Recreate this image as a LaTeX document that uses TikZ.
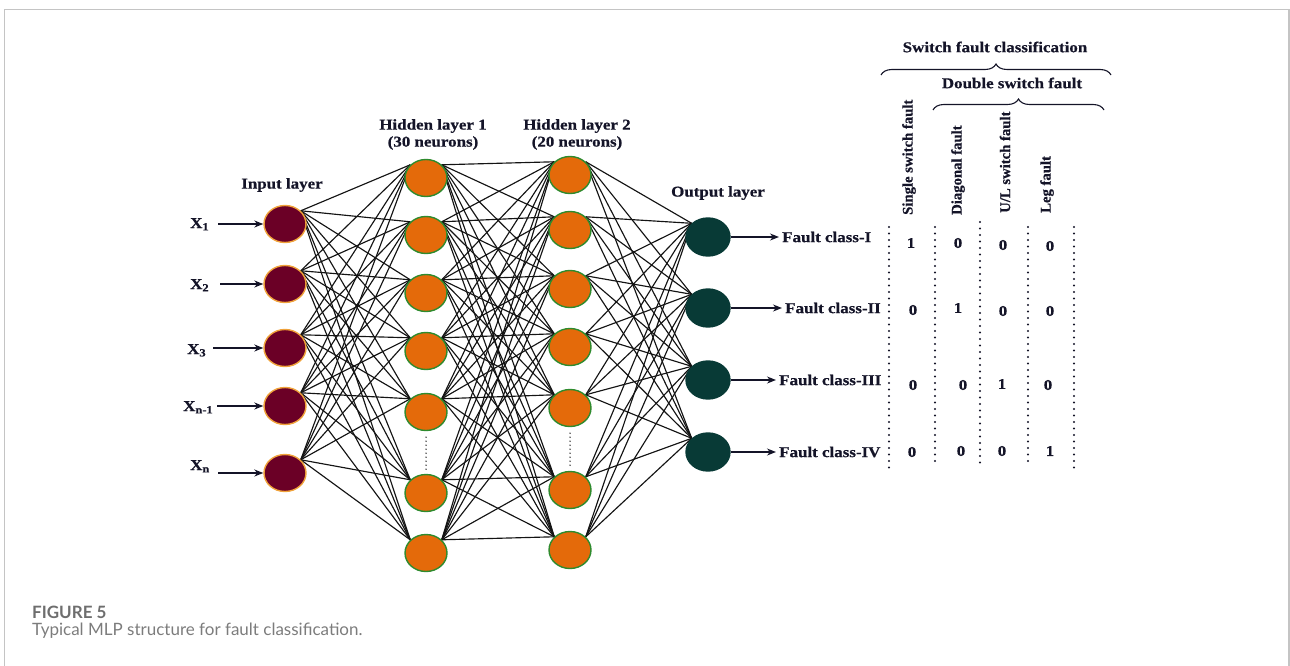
\documentclass[tikz,border=0pt]{standalone}
\usepackage{fontspec}
\setmainfont{Liberation Serif}
\newfontfamily\lbl[FakeStretch=1.13,FakeBold=0.6]{Liberation Serif}
\newfontfamily\vlbl[FakeBold=0.6]{Liberation Serif}
\newfontfamily\capfont{Lato}
\usetikzlibrary{shapes.geometric,arrows.meta,decorations.pathreplacing,backgrounds}

\definecolor{ink}{HTML}{141428}
\definecolor{inmaroon}{HTML}{6B0026}
\definecolor{inring}{HTML}{F0A23A}
\definecolor{hfill}{HTML}{E46A0A}
\definecolor{hring}{HTML}{2E8B2E}
\definecolor{ofill}{HTML}{083A36}
\definecolor{framegray}{HTML}{C4C4C4}
\definecolor{capgray}{HTML}{6E6E6E}
\definecolor{capgraylight}{HTML}{7C7C7C}

\newcommand{\xsub}[1]{X\raisebox{-0.35ex}{\fontsize{11}{11}\selectfont #1}}

\tikzset{
  neuron/.style={ellipse, minimum width=42pt, minimum height=37pt, inner sep=0pt, line width=1.4pt},
  inneuron/.style={neuron, fill=inmaroon, draw=inring},
  hidneuron/.style={neuron, fill=hfill, draw=hring},
  outneuron/.style={neuron, fill=ofill, draw=ofill, minimum width=44pt, minimum height=38pt},
  lab/.style={font=\lbl\bfseries\fontsize{15}{17}\selectfont, text=ink, inner sep=0pt},
  vlab/.style={font=\vlbl\bfseries\fontsize{14.7}{16}\selectfont, text=ink, rotate=90, anchor=west, inner sep=0pt},
  link/.style={line width=1.15pt, draw=black!92},
  tip/.style={-{Stealth[length=9pt,width=7pt]}, line width=1.3pt, draw=ink},
  tabdots/.style={line width=2.3pt, line cap=round, dash pattern=on 0pt off 6.5pt, draw=ink},
  hdots/.style={line width=1.6pt, line cap=round, dash pattern=on 0pt off 4pt, draw=black!75},
  bracebar/.style={decorate, decoration={brace, amplitude=11pt}, line width=1.1pt, draw=ink},
  framebar/.style={line width=1.5pt, draw=framegray}
}

\begin{document}
\begin{tikzpicture}[x=1pt, y=-1pt]
\useasboundingbox (0,0) rectangle (1290,666);

% outer frame
\draw[framebar] (4.5,666) -- (4.5,9.5) -- (1289,9.5) -- (1289,666);

% neurons
\foreach \y [count=\i] in {224,284,348,406,473}
  \node[inneuron] (i\i) at (285,\y) {};
\foreach \y [count=\i] in {178,235,293,351,412,493,553}
  \node[hidneuron] (a\i) at (426,\y) {};
\foreach \y [count=\i] in {175,230,289,347,408,490,550}
  \node[hidneuron] (b\i) at (570,\y) {};
\foreach \y [count=\i] in {237,308,380,452}
  \node[outneuron] (o\i) at (708,\y) {};

% fully connected weights
\begin{scope}[on background layer]
  \foreach \i in {1,...,5}
    \foreach \j in {1,...,7}
      \draw[link] (i\i.40) -- (a\j.140);
  \foreach \i in {1,...,7}
    \foreach \j in {1,...,7}
      \draw[link] (a\i.40) -- (b\j.140);
  \foreach \i in {1,...,7}
    \foreach \j in {1,...,4}
      \draw[link] (b\i.40) -- (o\j.140);
\end{scope}

% elided neurons
\draw[hdots] ([yshift=-6pt]a5.south) -- ([yshift=4pt]a6.north);
\draw[hdots] ([yshift=-6pt]b5.south) -- ([yshift=4pt]b6.north);

% layer titles
\node[lab] (tin) at (282,185) {Input layer};
\node[lab, align=center] (th1) at (433,134.5) {Hidden layer 1\\(30 neurons)};
\node[lab, align=center] (th2) at (577,134.5) {Hidden layer 2\\(20 neurons)};
\node[lab] (tout) at (718,193) {Output layer};

% inputs
\node[lab, anchor=base west] (x1) at (190,228) {\xsub{1}};
\node[lab, anchor=base west] (x2) at (190,289) {\xsub{2}};
\node[lab, anchor=base west] (x3) at (187,354) {\xsub{3}};
\node[lab, anchor=base west] (x4) at (183,411) {\xsub{n-1}};
\node[lab, anchor=base west] (x5) at (190,470) {\xsub{n}};
\coordinate (s1) at (218,224);
\coordinate (s2) at (220,284);
\coordinate (s3) at (213,348);
\coordinate (s4) at (217,406);
\coordinate (s5) at (218,473);
\foreach \i in {1,...,5}
  \draw[tip] (s\i) -- (i\i.west);

% outputs
\node[lab, anchor=west] (f1) at (782,237) {Fault class-I};
\node[lab, anchor=west] (f2) at (785,308) {Fault class-II};
\node[lab, anchor=west] (f3) at (779,380) {Fault class-III};
\node[lab, anchor=west] (f4) at (779,452) {Fault class-IV};
\foreach \i in {1,...,4}
  \draw[tip] (o\i.east) -- ([xshift=-3pt]f\i.west);

% classification table
\node[lab] (tsw) at (995,47) {Switch fault classification};
\node[lab] (tdbl) at (1012,83) {Double switch fault};
\coordinate (bl1) at (881,75);
\coordinate (br1) at (1111,75);
\coordinate (bl2) at (933,110);
\coordinate (br2) at (1104,110);
\draw[bracebar] (bl1) -- (br1);
\draw[bracebar] (bl2) -- (br2);

\node[vlab] (c1) at (909,215) {Single switch fault};
\node[vlab] (c2) at (958,215) {Diagonal fault};
\node[vlab] (c3) at (1005,213) {U/L switch fault};
\node[vlab] (c4) at (1047,213) {Leg fault};

\coordinate (d1t) at (889,227);  \coordinate (d1b) at (889,473);
\coordinate (d2t) at (935,227);  \coordinate (d2b) at (935,466);
\coordinate (d3t) at (980,222);  \coordinate (d3b) at (980,463);
\coordinate (d4t) at (1028,227); \coordinate (d4b) at (1028,466);
\coordinate (d5t) at (1074,227); \coordinate (d5b) at (1074,473);
\foreach \k in {1,...,5}
  \draw[tabdots] (d\k t) -- (d\k b);

\node[lab] (v11) at (911,243) {1};
\node[lab] (v12) at (958,243) {0};
\node[lab] (v13) at (1003,245) {0};
\node[lab] (v14) at (1050,246) {0};
\node[lab] (v21) at (913,310) {0};
\node[lab] (v22) at (958,308) {1};
\node[lab] (v23) at (1003,311) {0};
\node[lab] (v24) at (1050,311) {0};
\node[lab] (v31) at (913,385) {0};
\node[lab] (v32) at (963,385) {0};
\node[lab] (v33) at (1002,384) {1};
\node[lab] (v34) at (1048,385) {0};
\node[lab] (v41) at (912,452) {0};
\node[lab] (v42) at (961,451) {0};
\node[lab] (v43) at (1002,451) {0};
\node[lab] (v44) at (1050,451) {1};

% caption
\node[anchor=base west, inner sep=0pt, font=\capfont\bfseries\fontsize{17}{20}\selectfont, text=capgray] (cap1) at (32,618) {FIGURE 5};
\node[anchor=base west, inner sep=0pt, font=\capfont\fontsize{17}{20}\selectfont, text=capgraylight] (cap2) at (32,635) {Typical MLP structure for fault classification.};
\end{tikzpicture}
\end{document}
